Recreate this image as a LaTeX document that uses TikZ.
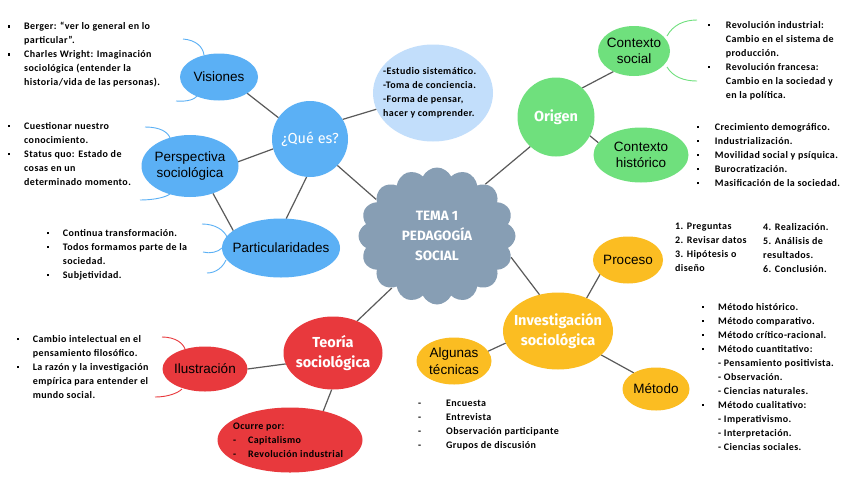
\documentclass[tikz,border=0pt]{standalone}
\usepackage{fontspec}
\setmainfont{Carlito}
\newfontfamily\carlito{Carlito}[LetterSpace=4]
\newfontfamily\arialf{Liberation Sans}
\newfontfamily\firaf{Fira Sans}
\usetikzlibrary{shapes.geometric,shapes.symbols,backgrounds}

\definecolor{azul}{HTML}{5BB0F5}
\definecolor{celeste}{HTML}{C2DEFB}
\definecolor{verde}{HTML}{6FE07D}
\definecolor{amarillo}{HTML}{FBBD22}
\definecolor{rojo}{HTML}{E8393D}
\definecolor{nube}{HTML}{879EB4}
\definecolor{linea}{HTML}{5A5A5A}

% viñeta y sangría de las listas
\newcommand{\vin}[1][16pt]{\makebox[#1][l]{\rule[2pt]{2.2pt}{2.2pt}}}
\newcommand{\sang}[1][16pt]{\hspace*{#1}}

\tikzset{
  bub/.style={ellipse, inner sep=0pt, outer sep=0pt},
  lblk/.style={font=\arialf\fontsize{13.5}{16.5}\selectfont, align=center, text=black},
  lwht/.style={font=\firaf\bfseries\fontsize{14.5}{20}\selectfont, align=center, text=white},
  txt/.style={font=\carlito\bfseries\fontsize{10}{14}\selectfont, align=left, inner sep=0pt, anchor=north west},
  conn/.style={draw=linea, line width=1.2pt},
  arco/.style={line width=0.9pt}
}

\begin{document}
\begin{tikzpicture}[x=1pt,y=-1pt]
\useasboundingbox (0,0) rectangle (848,477);

% arcos decorativos
\draw[arco, azul] (183,39) .. controls (196,40) and (203,47) .. (204,55);
\draw[arco, azul] (176,101) .. controls (188,102) and (195,99) .. (197,96);
\draw[arco, azul] (145,127) .. controls (160,127) and (168,132) .. (170,138);
\draw[arco, azul] (140,200) .. controls (155,200) and (166,197) .. (170,194);
\draw[arco, azul] (202,224) .. controls (215,224) and (224,230) .. (227,237);
\draw[arco, azul] (203,252) .. controls (210,254) and (218,252) .. (222,248);
\draw[arco, azul] (207,273) .. controls (216,273) and (223,267) .. (226,260);
\draw[arco, verde] (667,36) .. controls (673,25) and (684,20) .. (697,20);
\draw[arco, verde] (667,67) .. controls (673,77) and (684,81) .. (697,81);
\draw[arco, rojo] (162,337) .. controls (175,337) and (183,343) .. (185,349);
\draw[arco, rojo] (155,397) .. controls (168,397) and (178,393) .. (182,389);

% tema central
\node[cloud, cloud puffs=16, cloud puff arc=130, fill=nube, inner sep=0pt, minimum width=157pt, minimum height=137pt,
  label={[lwht, font=\firaf\bfseries\fontsize{13.5}{20}\selectfont]center:{TEMA 1\\PEDAGOGÍA\\SOCIAL}}] (tema) at (437,236) {};

% ¿Qué es?
\node[bub, fill=azul, minimum width=76pt, minimum height=76pt,
  label={[lwht, font=\firaf\fontsize{14.5}{19}\selectfont]center:¿Qué es?}] (que) at (310,139) {};
\node[bub, fill=azul, minimum width=78pt, minimum height=47pt, label={[lblk]center:Visiones}] (vis) at (219,77) {};
\node[bub, fill=azul, minimum width=97pt, minimum height=62pt, label={[lblk]center:{Perspectiva\\sociológica}}] (per) at (190,166) {};
\node[bub, fill=azul, minimum width=118pt, minimum height=59pt, label={[lblk]center:Particularidades}] (par) at (281,248) {};
\node[bub, fill=celeste, minimum width=120pt, minimum height=97pt] (est) at (433,93) {};

% Origen
\node[bub, fill=verde, minimum width=77pt, minimum height=79pt, label={[lwht]center:Origen}] (ori) at (556,117) {};
\node[bub, fill=verde, minimum width=72pt, minimum height=50pt, label={[lblk]center:{Contexto\\social}}] (cs) at (634,51) {};
\node[bub, fill=verde, minimum width=95pt, minimum height=55pt, label={[lblk]center:{Contexto\\histórico}}] (ch) at (641,155) {};

% Investigación
\node[bub, fill=amarillo, minimum width=110pt, minimum height=77pt, label={[lwht]center:{Investigación\\sociológica}}] (inv) at (558,331) {};
\node[bub, fill=amarillo, minimum width=70pt, minimum height=47pt, label={[lblk]center:Proceso}] (pro) at (628,260) {};
\node[bub, fill=amarillo, minimum width=75pt, minimum height=47pt, label={[lblk]center:{Algunas\\técnicas}}] (tec) at (454,361) {};
\node[bub, fill=amarillo, minimum width=67pt, minimum height=43pt, label={[lblk]center:Método}] (met) at (656,389) {};

% Teoría
\node[bub, fill=rojo, minimum width=99pt, minimum height=73pt, label={[lwht]center:{Teoría\\sociológica}}] (teo) at (333,353) {};
\node[bub, fill=rojo, minimum width=85pt, minimum height=45pt, label={[lblk]center:Ilustración}] (ilu) at (205,369) {};
\node[bub, fill=rojo, minimum width=145pt, minimum height=65pt] (ocu) at (290,440) {};

% conectores
\begin{scope}[on background layer]
\fill[white] (0,0) rectangle (848,477);
\draw[conn] (tema.149) -- (que.316);
\draw[conn] (que.146) -- (vis.330);
\draw[conn] (que.195) -- (per.5);
\draw[conn] (que.265) -- (par.80);
\draw[conn] (per.310) -- (par.160);
\draw[conn] (que.31) -- (est.196);
\draw[conn] (tema.47) -- (ori.229);
\draw[conn] (ori.48) -- (cs.225);
\draw[conn] (ori.331) -- (ch.164);
\draw[conn] (tema.344) -- (inv.117);
\draw[conn] (pro.207) -- (inv.49);
\draw[conn] (inv.193) -- (tec.16);
\draw[conn] (inv.331) -- (met.144);
\draw[conn] (tema.229) -- (teo.53);
\draw[conn] (teo.193) -- (ilu.0);
\draw[conn] (teo.268) -- (ocu.41);
\end{scope}

% textos
\node[txt] (tvis) at (8,22) {\vin Berger: “ver lo general en lo\\ \sang particular”.\\
  \vin Charles Wright: Imaginación\\ \sang sociológica (entender la\\ \sang historia/vida de las personas).};
\node[txt] (tper) at (8,122) {\vin Cuestionar nuestro\\ \sang conocimiento.\\
  \vin Status quo: Estado de\\ \sang cosas en un\\ \sang determinado momento.};
\node[txt] (tpar) at (47,229) {\vin[13pt] Continua transformación.\\
  \vin[13pt] Todos formamos parte de la\\ \sang[13pt] sociedad.\\ \vin[13pt] Subjetividad.};
\node[txt] (test) at (383,67) {-Estudio sistemático.\\ -Toma de conciencia.\\ -Forma de pensar,\\ hacer y comprender.};
\node[txt] (tcs) at (708,21) {\vin[15pt] Revolución industrial:\\ \sang[15pt] Cambio en el sistema de\\ \sang[15pt] producción.\\
  \vin[15pt] Revolución francesa:\\ \sang[15pt] Cambio en la sociedad y\\ \sang[15pt] en la política.};
\node[txt] (tch) at (697,123) {\vin[15pt] Crecimiento demográfico.\\ \vin[15pt] Industrialización.\\
  \vin[15pt] Movilidad social y psíquica.\\ \vin[15pt] Burocratización.\\ \vin[15pt] Masificación de la sociedad.};
\node[txt] (tpro1) at (675,223) {1. Preguntas\\ 2. Revisar datos\\ 3. Hipótesis o\\ diseño};
\node[txt] (tpro2) at (763,223) {4. Realización.\\ 5. Análisis de\\ resultados.\\ 6. Conclusión.};
\node[txt] (tmet) at (702,303) {\vin Método histórico.\\ \vin Método comparativo.\\ \vin Método crítico-racional.\\
  \vin Método cuantitativo:\\ \sang - Pensamiento positivista.\\ \sang - Observación.\\ \sang - Ciencias naturales.\\
  \vin Método cualitativo:\\ \sang - Imperativismo.\\ \sang - Interpretación.\\ \sang - Ciencias sociales.};
\node[txt] (ttec) at (418,400) {\makebox[28pt][l]{-}Encuesta\\ \makebox[28pt][l]{-}Entrevista\\
  \makebox[28pt][l]{-}Observación participante\\ \makebox[28pt][l]{-}Grupos de discusión};
\node[txt] (tilu) at (17,335) {\vin[13pt] Cambio intelectual en el\\ \sang[13pt] pensamiento filosófico.\\
  \vin[13pt] La razón y la investigación\\ \sang[13pt] empírica para entender el\\ \sang[13pt] mundo social.};
\node[txt] (tocu) at (233,423) {Ocurre por:\\ \makebox[15pt][l]{-}Capitalismo\\ \makebox[15pt][l]{-}Revolución industrial};

\end{tikzpicture}
\end{document}
